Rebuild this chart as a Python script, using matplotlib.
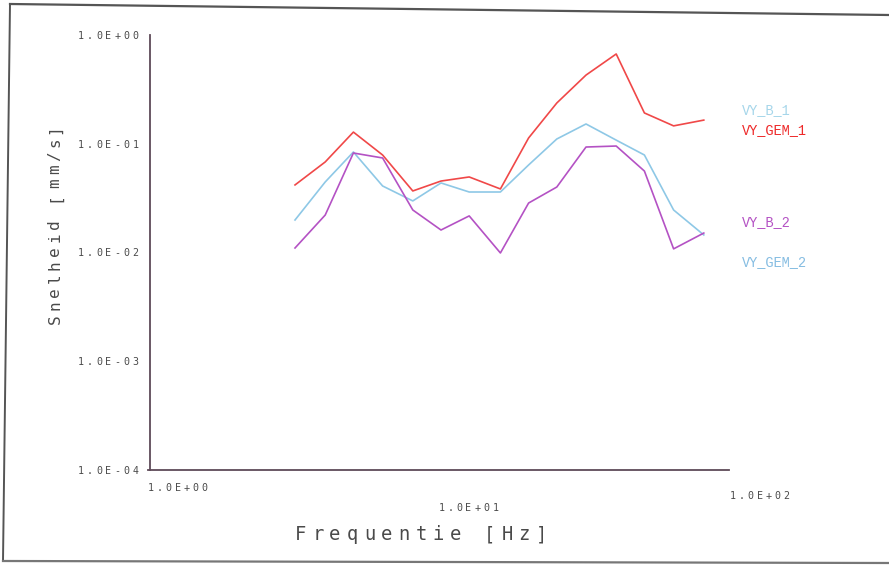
import matplotlib
matplotlib.use("Agg")
import matplotlib.pyplot as plt
from matplotlib.lines import Line2D

# ---------------- data ----------------
freq_hz = [3.15, 4, 5, 6.3, 8, 10, 12.5, 16, 20, 25, 31.5, 40, 50, 63, 80]
vy_gem_1 = [0.0418, 0.068, 0.128, 0.0788, 0.0368, 0.0454, 0.0495, 0.0384,
            0.113, 0.237, 0.428, 0.669, 0.192, 0.146, 0.165]
vy_gem_2 = [0.0199, 0.0445, 0.084, 0.0409, 0.0298, 0.0436, 0.036, 0.036,
            0.0638, 0.1106, 0.152, 0.108, 0.0788, 0.0246, 0.0145]
vy_b_2 = [0.011, 0.0221, 0.0822, 0.074, 0.0246, 0.0161, 0.0217, 0.0099,
          0.0285, 0.040, 0.0933, 0.0953, 0.0561, 0.0108, 0.0151]
series_labels = ["VY_B_1", "VY_GEM_1", "VY_B_2", "VY_GEM_2"]
y_ticks = [1e0, 1e-1, 1e-2, 1e-3, 1e-4]
y_tick_labels = ["1.0E+00", "1.0E-01", "1.0E-02", "1.0E-03", "1.0E-04"]
x_ticks = [1, 10, 100]
x_tick_labels = ["1.0E+00", "1.0E+01", "1.0E+02"]
x_title = "Frequentie [Hz]"
y_title = "Snelheid [mm/s]"

# ---------------- layout ----------------
W, H = 889, 567
fig = plt.figure(figsize=(W / 100, H / 100), dpi=100)
fig.patch.set_facecolor("white")
ax = fig.add_axes([150 / W, 1 - 470 / H, (732 - 150) / W, (470 - 35) / H])
ax.set_xscale("log")
ax.set_yscale("log")
ax.set_xlim(1, 100)
ax.set_ylim(1e-4, 1)
for s in ("top", "right"):
    ax.spines[s].set_visible(False)
axis_col = "#5e4a58"
for s in ("left", "bottom"):
    ax.spines[s].set_color(axis_col)
    ax.spines[s].set_linewidth(1.3)
ax.spines["bottom"].set_bounds(0.985, 98)
ax.set_xticks([])
ax.set_yticks([])
ax.minorticks_off()
ax.tick_params(which="both", length=0, labelleft=False, labelbottom=False)

red = "#f04848"
lblue = "#8ec8e6"
purple = "#b452c4"
ax.plot(freq_hz, vy_gem_1, color=red, lw=1.2)
ax.plot(freq_hz, vy_gem_2, color=lblue, lw=1.2)
ax.plot(freq_hz, vy_b_2, color=purple, lw=1.2)

txt_col = "#4a4a4a"
MONO = "DejaVu Sans Mono"


def spaced(x, y, s, pitch, size, color=txt_col, rotation=0, ha="left"):
    """Place characters of s with a fixed pitch; x,y in display pixels (y from top)."""
    n = len(s)
    total = pitch * (n - 1)
    if ha == "right":
        start = -total - pitch * 0.5
    elif ha == "center":
        start = -total / 2
    else:
        start = pitch * 0.5
    for i, ch in enumerate(s):
        off = start + i * pitch
        if rotation == 90:
            px, py = x, (H - y) + off
        else:
            px, py = x + off, H - y
        fig.text(px / W, py / H, ch, fontsize=size, family=MONO, color=color,
                 ha="center", va="center", rotation=rotation)


# y tick labels at data positions
for v, lab in zip(y_ticks, y_tick_labels):
    yd = ax.transData.transform((1, v))[1]
    spaced(140, H - yd + 1, lab, 9.1, 7.2, ha="right")

# x tick labels (staggered, as in the plotter output)
x_label_rows = [488, 508, 496]
for v, lab, yrow in zip(x_ticks, x_tick_labels, x_label_rows):
    xd = ax.transData.transform((v, 1e-4))[0]
    spaced(xd - 4, yrow, lab, 9.0, 7.2, ha="left")

# axis titles
spaced(421, 535, x_title, 17.2, 13.5, ha="center")
spaced(55, 224, y_title, 13.6, 11.5, rotation=90, ha="center")

# series labels at right
lab_cols = ["#a6d6ea", "#ee2a2a", "#b452c4", "#86bde2"]
lab_rows = [110, 130, 222, 262]
for lab, c, yrow in zip(series_labels, lab_cols, lab_rows):
    fig.text(742 / W, 1 - yrow / H, lab, fontsize=9.8, family="Liberation Mono",
             color=c, ha="left", va="center")

# scanned page frame
frame_col = "#555555"
fig.add_artist(Line2D([10 / W, 1.0], [1 - 4 / H, 1 - 15 / H], color=frame_col, lw=1.6,
                      transform=fig.transFigure))
fig.add_artist(Line2D([10 / W, 3 / W], [1 - 4 / H, 1 - 561 / H], color=frame_col, lw=1.4,
                      transform=fig.transFigure))
fig.add_artist(Line2D([3 / W, 1.0], [1 - 561 / H, 1 - 563 / H], color="#777777", lw=1.6,
                      transform=fig.transFigure))

fig.savefig("out.png", dpi=100)
